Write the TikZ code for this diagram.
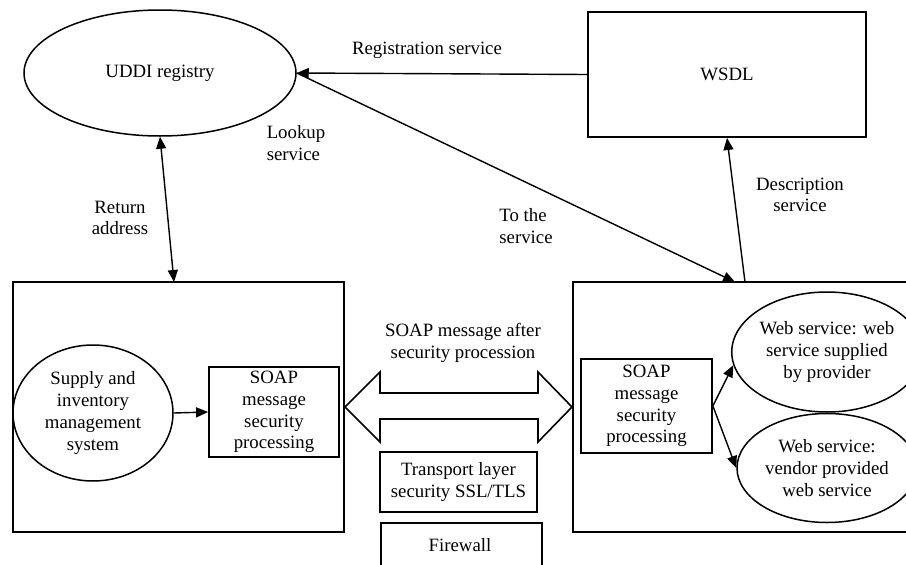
\documentclass[tikz,border=0pt]{standalone}
\usepackage{fontspec}
\setmainfont{Liberation Serif}
\usetikzlibrary{shapes.geometric,arrows.meta}

\tikzset{
  lbl/.style={font=\fontsize{18.8}{21.7}\selectfont, align=center, inner sep=0pt},
  box/.style={draw, line width=2pt, inner sep=0pt, lbl},
  oval/.style={draw, ellipse, line width=1.5pt, inner sep=0pt, lbl},
  arr/.style={line width=1.4pt, -{Triangle[length=12pt,width=10pt]}},
  darr/.style={line width=1.4pt, {Triangle[length=12pt,width=10pt]}-{Triangle[length=12pt,width=10pt]}},
}

\begin{document}
\begin{tikzpicture}[x=1pt,y=-1pt]
\path[use as bounding box] (0,0) rectangle (906,565);
\clip (0,0) rectangle (906,565);

% registry and description
\node[oval, minimum width=272, minimum height=126] (uddi) at (160,73) {UDDI registry};
\node[box, minimum width=278, minimum height=125] (wsdl) at (727,74.5) {WSDL};

% requester side
\node[box, minimum width=331, minimum height=250] (reqbox) at (178.5,407) {};
\node[oval, minimum width=160, minimum height=136] (supply) at (93,413)
  {Supply and\\inventory\\management\\system};
\node[box, line width=1.8pt, minimum width=130, minimum height=90] (lsoap) at (274,412)
  {SOAP\\message\\security\\processing};

% provider side
\node[box, minimum width=387, minimum height=250] (provbox) at (766.5,407) {};
\node[box, line width=1.8pt, minimum width=131, minimum height=94] (rsoap) at (646.5,406)
  {SOAP\\message\\security\\processing};
\node[oval, minimum width=184, minimum height=120] (ws1) at (827,352)
  {Web service: web\\service supplied\\by provider};
\node[oval, minimum width=180, minimum height=109] (ws2) at (827,468)
  {Web service:\\vendor provided\\web service};

% channel between the two sides
\draw[line width=1.6pt] (345,407) -- (380,372) -- (380,393) -- (538,393) -- (538,372)
  -- (572,407) -- (538,442) -- (538,419) -- (380,419) -- (380,442) -- cycle;
\node[lbl] (chanlbl) at (463,343) {SOAP message after\\security procession};
\node[box, line width=1.8pt, minimum width=157, minimum height=60] (tls) at (458.5,482)
  {Transport layer\\security SSL/TLS};
\node[draw, line width=1.8pt, minimum width=161, minimum height=70, anchor=north west] (fw) at (380,522) {};
\node[lbl] (fwlbl) at (460,545) {Firewall};

% connectors
\coordinate (lookupEnd) at (735,282);
\coordinate (descStart) at (745,282);
\coordinate (retEnd) at (174,282);

\draw[arr] (wsdl.west) -- (uddi.east);
\draw[arr] (uddi.east) -- (lookupEnd);
\draw[arr] (descStart) -- (wsdl.south);
\draw[darr] (uddi.south) -- (retEnd);
\draw[arr] (supply.east) -- (lsoap.west);
\draw[arr] (rsoap.east) -- (ws1.188);
\draw[arr] (rsoap.east) -- (ws2.west);

% connector labels
\node[lbl] (reglbl) at (427,50) {Registration service};
\node[lbl, align=left] (lookuplbl) at (296,143) {Lookup\\service};
\node[lbl, align=left] (tothelbl) at (526,226) {To the\\service};
\node[lbl] (desclbl) at (800,195) {Description\\service};
\node[lbl] (retlbl) at (120,218) {Return\\address};
\end{tikzpicture}
\end{document}
